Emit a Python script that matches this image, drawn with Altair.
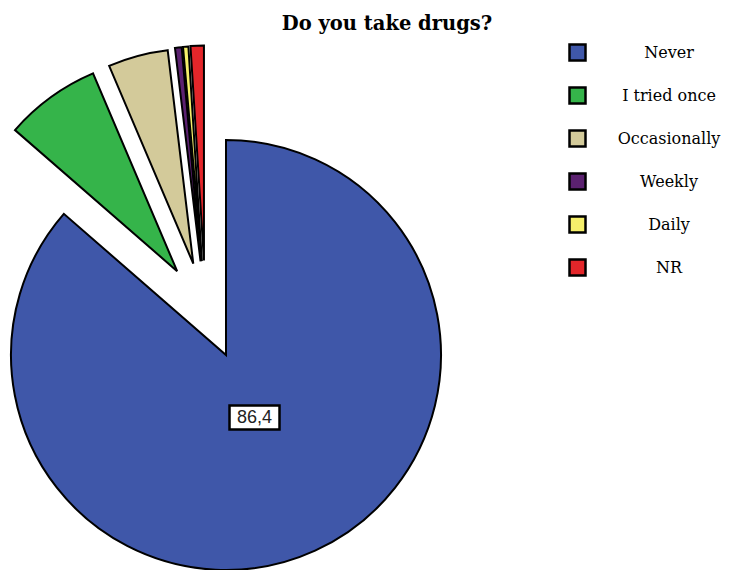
import altair as alt
import pandas as pd

categories = ["Never", "I tried once", "Occasionally", "Weekly", "Daily", "NR"]
values = [86.4, 7.2, 4.5, 0.5, 0.4, 1.0]
colors = ["#3F57A9", "#35B44A", "#D3CA9A", "#5B2170", "#F5EF6B", "#E3262A"]
title_text = "Do you take drugs?"

df = pd.DataFrame({"category": categories, "value": values, "order": list(range(len(categories)))})

CX, CY, R, EXPLODE = 226, 355, 215, 97

base = alt.Chart(df).transform_window(
    cum="sum(value)", sort=[alt.SortField("order")], frame=[None, 0]
).transform_joinaggregate(
    total="sum(value)"
).transform_calculate(
    t0="2*PI*(datum.cum - datum.value)/datum.total",
    t1="2*PI*datum.cum/datum.total",
    ex="datum.category == 'Never' ? 0 : 1",
).transform_calculate(
    mid="(datum.t0 + datum.t1)/2"
).transform_joinaggregate(
    gmin="min(t0)", gmax="max(t1)", groupby=["ex"]
).transform_calculate(
    dir="(datum.mid + (datum.gmin + datum.gmax)/2)/2"
).transform_calculate(
    px=f"{CX} + datum.ex*{EXPLODE}*sin(datum.dir)",
    py=f"{CY} - datum.ex*{EXPLODE}*cos(datum.dir)",
)

pie = base.mark_arc(outerRadius=R, stroke="black", strokeWidth=2).encode(
    x=alt.X("px:Q", scale=None),
    y=alt.Y("py:Q", scale=None),
    theta=alt.Theta("t0:Q", scale=None),
    theta2=alt.Theta2("t1:Q"),
    color=alt.Color(
        "category:N",
        scale=alt.Scale(domain=categories, range=colors),
        sort=categories,
        legend=alt.Legend(
            title=None,
            orient="none",
            legendX=568,
            legendY=43,
            symbolType="square",
            symbolSize=256,
            symbolStrokeColor="black",
            symbolStrokeWidth=2.5,
            labelFont="DejaVu Serif",
            labelFontSize=16,
            labelColor="black",
            labelAlign="center",
            labelOffset=82,
            rowPadding=16,
            labelLimit=300,
        ),
    ),
)

label_base = base.transform_filter("datum.category == 'Never'").transform_calculate(
    lx=f"{CX} + 0.32*{R}*sin(datum.mid)",
    ly=f"{CY} - 0.32*{R}*cos(datum.mid)",
    lab="replace(format(datum.value, '.1f'), '.', ',')",
)

box = label_base.mark_point(
    shape="M-1,-0.48L1,-0.48L1,0.48L-1,0.48Z",
    size=2500,
    filled=True,
    fill="white",
    stroke="black",
    strokeWidth=2.5,
    opacity=1,
).encode(x=alt.X("lx:Q", scale=None), y=alt.Y("ly:Q", scale=None))

txt = label_base.mark_text(font="Liberation Sans", fontSize=18, color="#222222").encode(
    x=alt.X("lx:Q", scale=None), y=alt.Y("ly:Q", scale=None), text="lab:N"
)

title = alt.Chart(pd.DataFrame({"t": [title_text]})).mark_text(
    font="DejaVu Serif", fontSize=19.5, fontWeight="bold", color="black"
).encode(x=alt.value(387), y=alt.value(24), text="t:N")

chart = alt.layer(pie, box, txt, title).properties(
    width=731, height=570, padding=0, autosize=alt.AutoSizeParams(type="none")
).configure_view(stroke=None)

chart.save("out.html", embed_options={"renderer": "svg", "actions": False})
